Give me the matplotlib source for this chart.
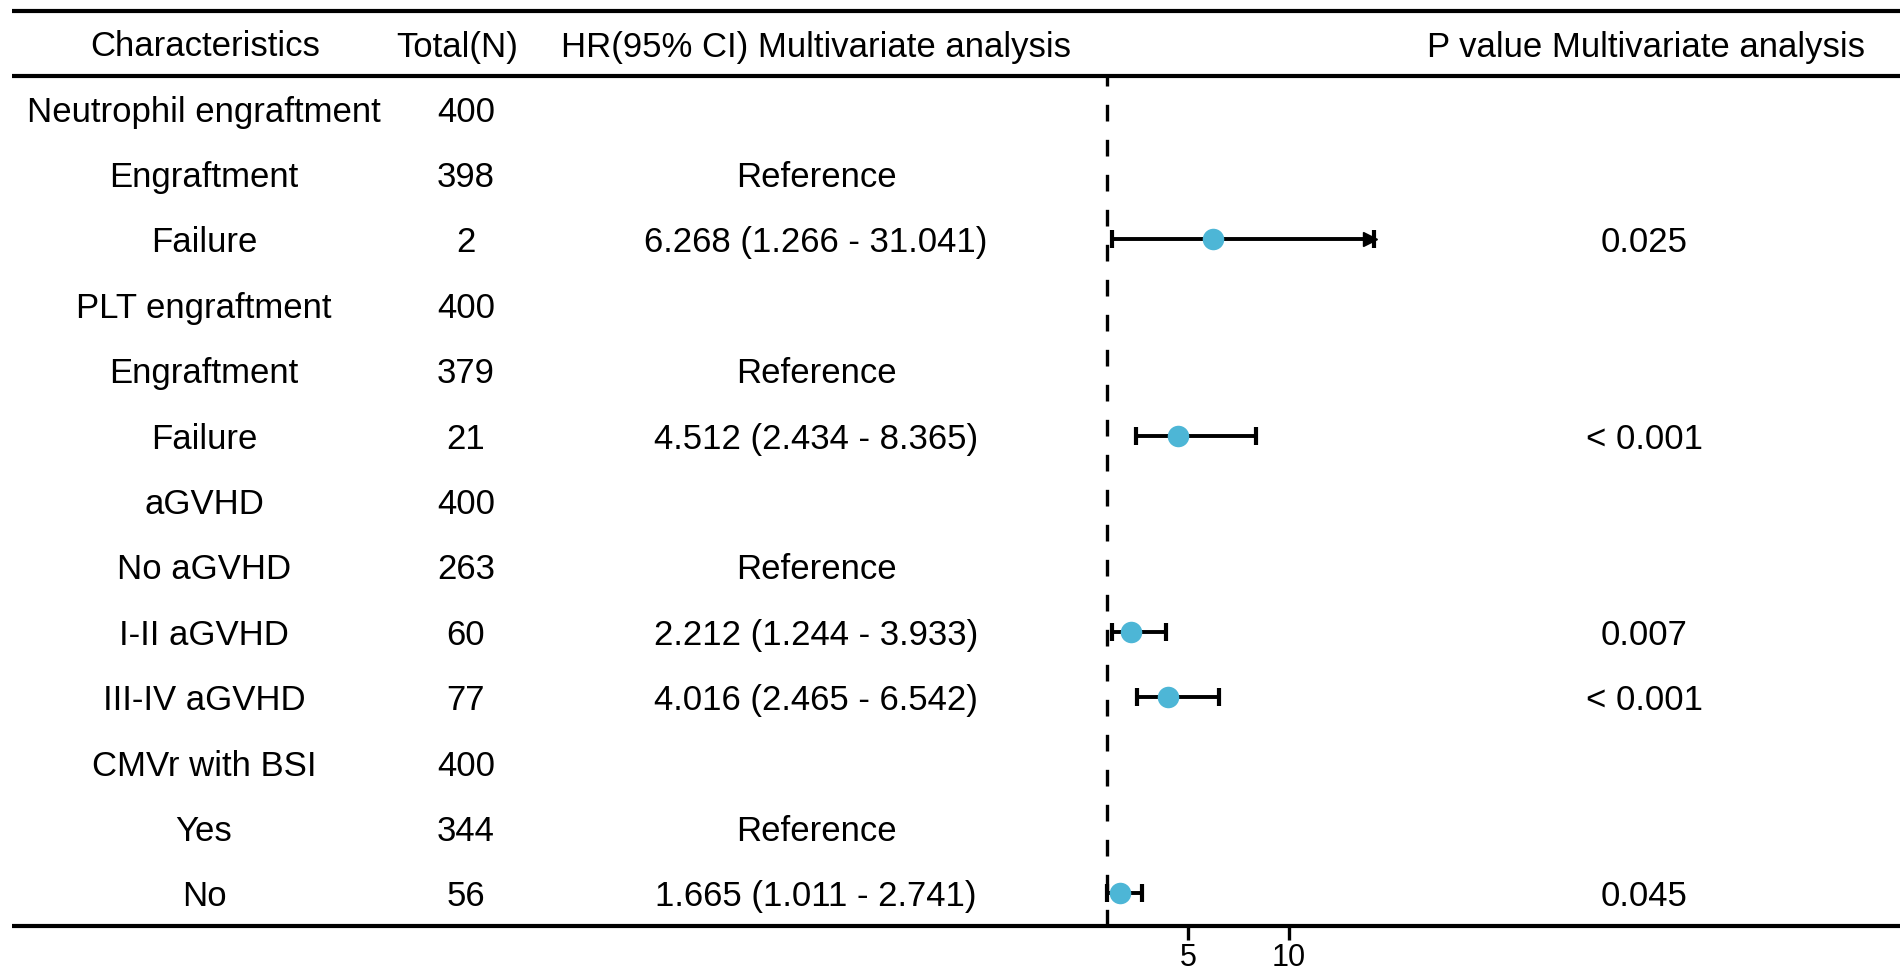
import numpy as np
import matplotlib
matplotlib.use("Agg")
import matplotlib.pyplot as plt

plt.rcParams['font.family'] = ['Liberation Sans', 'DejaVu Sans']

# table content
characteristics = ["Neutrophil engraftment", "Engraftment", "Failure",
                   "PLT engraftment", "Engraftment", "Failure",
                   "aGVHD", "No aGVHD", "I-II aGVHD", "III-IV aGVHD",
                   "CMVr with BSI", "Yes", "No"]
total_n = ["400", "398", "2", "400", "379", "21", "400", "263", "60", "77",
           "400", "344", "56"]
hr_text = ["", "Reference", "6.268 (1.266 - 31.041)", "", "Reference",
           "4.512 (2.434 - 8.365)", "", "Reference", "2.212 (1.244 - 3.933)",
           "4.016 (2.465 - 6.542)", "", "Reference", "1.665 (1.011 - 2.741)"]
p_values = ["", "", "0.025", "", "", "< 0.001", "", "", "0.007", "< 0.001",
            "", "", "0.045"]
hr = [np.nan, np.nan, 6.268, np.nan, np.nan, 4.512, np.nan, np.nan, 2.212,
      4.016, np.nan, np.nan, 1.665]
hr_low = [np.nan, np.nan, 1.266, np.nan, np.nan, 2.434, np.nan, np.nan, 1.244,
          2.465, np.nan, np.nan, 1.011]
hr_high = [np.nan, np.nan, 31.041, np.nan, np.nan, 8.365, np.nan, np.nan,
           3.933, 6.542, np.nan, np.nan, 2.741]
headers = ["Characteristics", "Total(N)", "HR(95% CI) Multivariate analysis",
           "P value Multivariate analysis"]
x_ticks = [5, 10]
ref_line = 1
x_limits = (0, 14.2)

W, H = 1902, 975
fig = plt.figure(figsize=(W / 100, H / 100), dpi=100)

# table layer in pixel coordinates
ax = fig.add_axes([0, 0, 1, 1])
ax.set_xlim(0, W)
ax.set_ylim(H, 0)
ax.axis("off")

top_y, head_y, bottom_y = 11, 76, 926
n = len(characteristics)
row_h = (bottom_y - head_y) / n
fs = 25

col_x_head = [205, 457, 816, 1646]
col_x_body = [204, 466, 816, 1644]

for y in (top_y, head_y, bottom_y):
    ax.plot([12, 1900], [y, y], color="black", lw=3.0, solid_capstyle="butt")

for x, h in zip(col_x_head, headers):
    ax.text(x, (top_y + head_y) / 2, h, ha="center", va="center_baseline", fontsize=fs)

for i in range(n):
    y = head_y + (i + 0.5) * row_h
    for x, col in zip(col_x_body, [characteristics, total_n, hr_text, p_values]):
        if col[i]:
            ax.text(x, y, col[i], ha="center", va="center_baseline", fontsize=fs)

# forest column
px_per_unit = 20.2
x0_px = 1107 - (ref_line - x_limits[0]) * px_per_unit
width_px = (x_limits[1] - x_limits[0]) * px_per_unit
axf = fig.add_axes([x0_px / W, (H - bottom_y) / H, width_px / W, (bottom_y - head_y) / H])
axf.set_xlim(*x_limits)
axf.set_ylim(n - 0.5, -0.5)
axf.patch.set_alpha(0)
for s in axf.spines.values():
    s.set_visible(False)
axf.set_yticks([])
axf.set_xticks(x_ticks)
axf.set_xticklabels([str(t) for t in x_ticks])
axf.tick_params(axis="x", direction="out", length=10, width=2.4, labelsize=22, pad=2)

axf.axvline(ref_line, color="black", lw=2.4, linestyle=(0, (5.0, 5.5)), zorder=1)

rows = np.arange(n)
hr_a = np.array(hr)
lo_a = np.array(hr_low)
hi_a = np.array(hr_high)
ok = ~np.isnan(hr_a)
hi_clip = np.minimum(hi_a, x_limits[1])
axf.hlines(rows[ok], lo_a[ok], hi_clip[ok], color="black", lw=2.8, zorder=2)
axf.plot(lo_a[ok], rows[ok], "|", color="black", ms=13, mew=3.0, zorder=2, clip_on=False)
axf.plot(hi_clip[ok], rows[ok], "|", color="black", ms=13, mew=3.0, zorder=2, clip_on=False)
over = ok & (hi_a > x_limits[1])
axf.plot(hi_clip[over] - 0.2, rows[over], ">", color="black", ms=10, zorder=2, clip_on=False)
axf.plot(hr_a[ok], rows[ok], "o", color="#4DB6D6", ms=15.5, mew=0, zorder=3)

fig.savefig("out.png", dpi=100)
